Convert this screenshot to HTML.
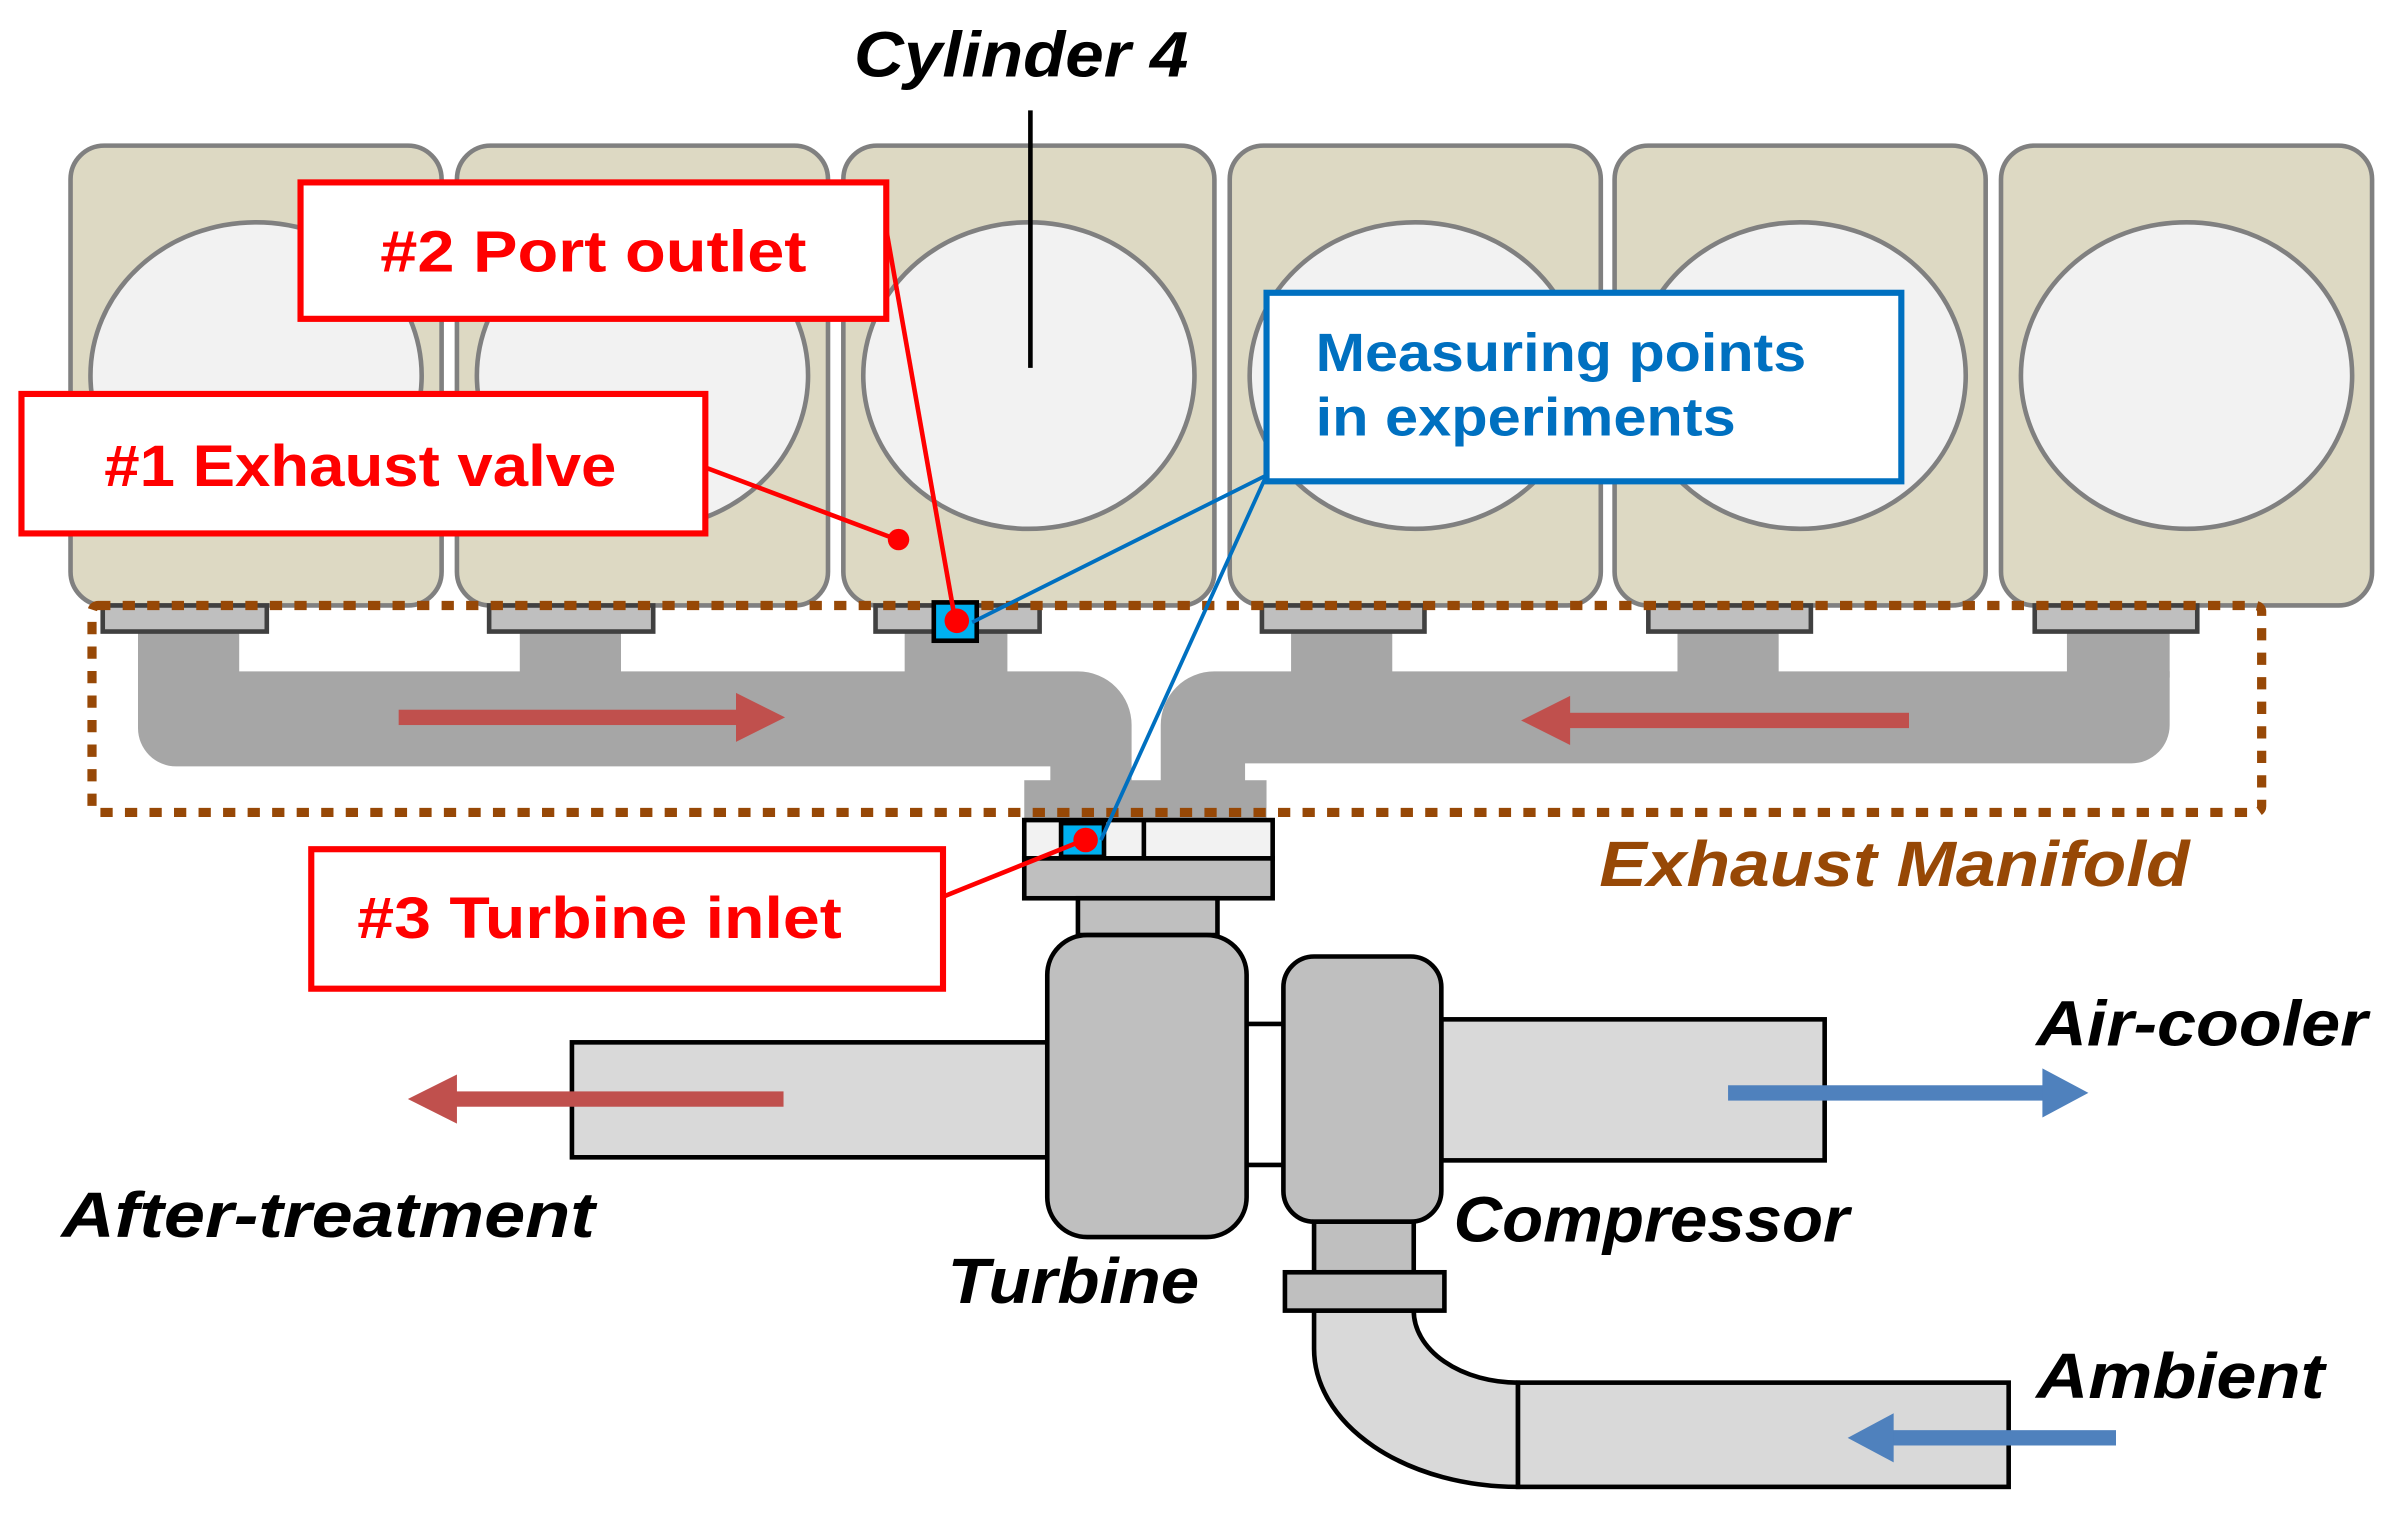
<!DOCTYPE html>
<html><head><meta charset="utf-8"><style>
html,body{margin:0;padding:0;background:#fff;}
svg{display:block;}
text{font-family:"Liberation Sans",sans-serif;font-weight:bold;}
</style></head><body>
<svg width="2392" height="1516" viewBox="0 0 1560 989" preserveAspectRatio="none" xmlns="http://www.w3.org/2000/svg">
<g fill="#ddd9c3" stroke="#808080" stroke-width="3">
<rect x="46" y="95" width="242" height="300" rx="22"/>
<rect x="298" y="95" width="242" height="300" rx="22"/>
<rect x="550" y="95" width="242" height="300" rx="22"/>
<rect x="802" y="95" width="242" height="300" rx="22"/>
<rect x="1053" y="95" width="242" height="300" rx="22"/>
<rect x="1305" y="95" width="242" height="300" rx="22"/>
</g>
<g fill="#f2f2f2" stroke="#808080" stroke-width="3">
<ellipse cx="167" cy="245" rx="108" ry="100"/>
<ellipse cx="419" cy="245" rx="108" ry="100"/>
<ellipse cx="671" cy="245" rx="108" ry="100"/>
<ellipse cx="923" cy="245" rx="108" ry="100"/>
<ellipse cx="1174" cy="245" rx="108" ry="100"/>
<ellipse cx="1426" cy="245" rx="108" ry="100"/>
</g>
<g fill="#a6a6a6">
<rect x="90" y="410" width="66" height="32"/>
<rect x="339" y="410" width="66" height="32"/>
<rect x="590" y="410" width="67" height="32"/>
<rect x="842" y="410" width="66" height="32"/>
<rect x="1094" y="410" width="66" height="32"/>
<rect x="1348" y="410" width="67" height="32"/>
<path d="M90,438 H703 A35,35 0 0 1 738,473 V512 H685 V500 H115 A25,25 0 0 1 90,475 Z"/>
<path d="M757,512 V473 A35,35 0 0 1 792,438 H1415 V473 A25,25 0 0 1 1390,498 H812 V512 Z"/>
<rect x="668" y="509" width="158" height="26"/>
</g>
<g fill="#bfbfbf" stroke="#404040" stroke-width="3">
<rect x="67" y="395" width="107" height="17"/>
<rect x="319" y="395" width="107" height="17"/>
<rect x="571" y="395" width="107" height="17"/>
<rect x="823" y="395" width="106" height="17"/>
<rect x="1075" y="395" width="106" height="17"/>
<rect x="1327" y="395" width="106" height="17"/>
</g>
<rect x="60" y="395" width="1415" height="135" fill="none" stroke="#974806" stroke-width="6" stroke-dasharray="8 8" rx="4"/>
<g fill="#c0504d">
<rect x="260" y="463" width="222" height="10"/><polygon points="480,452 512,468 480,484"/>
<rect x="1022" y="465" width="223" height="10"/><polygon points="1024,454 992,470 1024,486"/>
</g>
<g stroke="#000" stroke-width="3">
<rect x="373" y="680" width="312" height="75" fill="#d9d9d9"/>
<rect x="940" y="665" width="250" height="92" fill="#d9d9d9"/>
<path d="M857,855 V880 A133,90 0 0 0 990,970 V902 A68,47 0 0 1 922,855 Z" fill="#d9d9d9"/>
<rect x="990" y="902" width="320" height="68" fill="#d9d9d9"/>
<line x1="813" y1="668" x2="837" y2="668"/>
<line x1="813" y1="760" x2="837" y2="760"/>
<rect x="668" y="535" width="162" height="25" fill="#f2f2f2"/>
<line x1="746" y1="535" x2="746" y2="560"/>
<rect x="668" y="560" width="162" height="26" fill="#bfbfbf"/>
<rect x="703" y="586" width="91" height="24" fill="#bfbfbf"/>
<rect x="683" y="610" width="130" height="197" rx="26" fill="#bfbfbf"/>
<rect x="837" y="624" width="103" height="173" rx="20" fill="#bfbfbf"/>
<rect x="857" y="797" width="65" height="33" fill="#bfbfbf"/>
<rect x="838" y="830" width="104" height="25" fill="#bfbfbf"/>
<rect x="692" y="537" width="28" height="22" fill="#00b0f0"/>
<rect x="609" y="393" width="28" height="25" fill="#00b0f0"/>
</g>
<g fill="#c0504d">
<rect x="296" y="712" width="215" height="10"/><polygon points="298,701 266,717 298,733"/>
</g>
<g fill="#4f81bd">
<rect x="1127" y="708" width="208" height="10"/><polygon points="1332,697 1362,713 1332,729"/>
<rect x="1232" y="933" width="148" height="10"/><polygon points="1235,922 1205,938 1235,954"/>
</g>
<line x1="672" y1="72" x2="672" y2="240" stroke="#000" stroke-width="3"/>
<g stroke="#0070c0" stroke-width="2.5">
<line x1="826" y1="310" x2="634" y2="406"/>
<line x1="826" y1="310" x2="718" y2="548"/>
</g>
<g stroke="#ff0000" stroke-width="3">
<line x1="578" y1="150" x2="623" y2="405"/>
<line x1="460" y1="305" x2="585" y2="352"/>
<line x1="615" y1="585" x2="707" y2="548"/>
</g>
<g fill="#ff0000">
<circle cx="586" cy="352" r="7"/>
<circle cx="624" cy="405" r="8"/>
<circle cx="708" cy="548" r="8"/>
</g>
<g fill="#fff" stroke="#ff0000" stroke-width="4">
<rect x="196" y="119" width="382" height="89"/>
<rect x="14" y="257" width="446" height="91"/>
<rect x="203" y="554" width="412" height="91"/>
</g>
<rect x="826" y="191" width="414" height="123" fill="#fff" stroke="#0070c0" stroke-width="4"/>
<g fill="#ff0000" font-size="38">
<text x="248" y="177" textLength="278" lengthAdjust="spacingAndGlyphs">#2 Port outlet</text>
<text x="68" y="317" textLength="334" lengthAdjust="spacingAndGlyphs">#1 Exhaust valve</text>
<text x="233" y="612" textLength="316" lengthAdjust="spacingAndGlyphs">#3 Turbine inlet</text>
</g>
<g fill="#0070c0" font-size="35">
<text x="858" y="242" textLength="320" lengthAdjust="spacingAndGlyphs">Measuring points</text>
<text x="858" y="284" textLength="274" lengthAdjust="spacingAndGlyphs">in experiments</text>
</g>
<g font-style="italic" font-size="42" fill="#000">
<text x="557" y="50" textLength="218" lengthAdjust="spacingAndGlyphs">Cylinder 4</text>
<text x="1328" y="682" textLength="216" lengthAdjust="spacingAndGlyphs">Air-cooler</text>
<text x="40" y="807" textLength="348" lengthAdjust="spacingAndGlyphs">After-treatment</text>
<text x="618" y="850" textLength="164" lengthAdjust="spacingAndGlyphs">Turbine</text>
<text x="948" y="810" textLength="258" lengthAdjust="spacingAndGlyphs">Compressor</text>
<text x="1328" y="912" textLength="188" lengthAdjust="spacingAndGlyphs">Ambient</text>
<text x="1043" y="578" fill="#974806" textLength="385" lengthAdjust="spacingAndGlyphs">Exhaust Manifold</text>
</g>
</svg>
</body></html>
